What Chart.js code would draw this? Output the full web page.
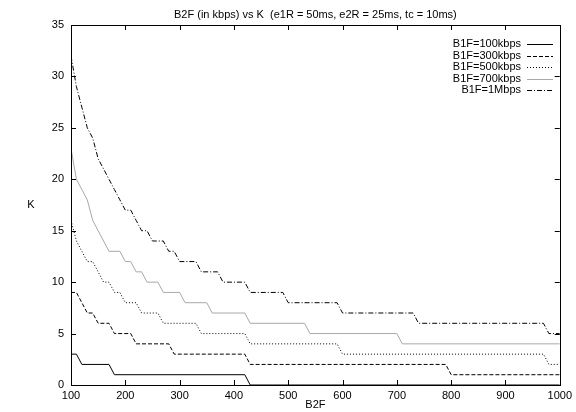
<!DOCTYPE html>
<html>
<head>
<meta charset="utf-8">
<script src="https://cdn.jsdelivr.net/npm/chart.js@4/dist/chart.umd.min.js"></script>
<style>
  body { margin: 0; background: #fff; }
  canvas { display: block; }
</style>
</head>
<body>
<canvas id="grafico" width="576" height="412"></canvas>
<script>
// dados (vertices de cada curva)
var titulo = 'B2F (in kbps) vs K  (e1R = 50ms, e2R = 25ms, tc = 10ms)';
var nomes = ['B1F=100kbps', 'B1F=300kbps', 'B1F=500kbps', 'B1F=700kbps', 'B1F=1Mbps'];

var x100 = [100, 110, 120, 170, 180, 420, 430, 1000];
var k100 = [3, 3, 2, 2, 1, 1, 0, 0];

var x300 = [100, 110, 120, 130, 140, 150, 170, 180, 210, 220, 280, 290, 420, 430, 790, 800, 1000];
var k300 = [9, 9, 8, 7, 7, 6, 6, 5, 5, 4, 4, 3, 3, 2, 2, 1, 1];

var x500 = [100, 110, 120, 130, 140, 150, 160, 170, 180, 190, 200, 220, 230, 260, 270, 330, 340, 420, 430, 590, 600, 970, 980, 1000];
var k500 = [16, 14, 13, 12, 12, 11, 10, 10, 9, 9, 8, 8, 7, 7, 6, 6, 5, 5, 4, 4, 3, 3, 2, 2];

var x700 = [100, 110, 120, 130, 140, 150, 160, 170, 190, 200, 210, 220, 230, 240, 260, 270, 300, 310, 350, 360, 420, 430, 530, 540, 700, 710, 1000];
var k700 = [23, 20, 19, 18, 16, 15, 14, 13, 13, 12, 12, 11, 11, 10, 10, 9, 9, 8, 8, 7, 7, 6, 6, 5, 5, 4, 4];

var x1M = [100, 110, 120, 130, 140, 150, 160, 170, 180, 190, 200, 210, 220, 230, 240, 250, 270, 280, 290, 300, 330, 340, 370, 380, 420, 430, 490, 500, 590, 600, 730, 740, 970, 980, 1000];
var k1M = [32, 29, 27, 25, 24, 22, 21, 20, 19, 18, 17, 17, 16, 15, 15, 14, 14, 13, 13, 12, 12, 11, 11, 10, 10, 9, 9, 8, 8, 7, 7, 6, 6, 5, 5];

var ticksX = [100, 200, 300, 400, 500, 600, 700, 800, 900, 1000];
var ticksY = [0, 5, 10, 15, 20, 25, 30, 35];

var fonte = '"Liberation Sans", Arial, Helvetica, sans-serif';

function pontos(xs, ks) {
  return xs.map(function (x, i) { return { x: x, y: ks[i] }; });
}

function serie(nome, xs, ks, cor, tracos) {
  return {
    label: nome,
    data: pontos(xs, ks),
    borderColor: cor,
    borderWidth: 1,
    borderDash: tracos,
    pointRadius: 0,
    tension: 0,
    fill: false
  };
}

// moldura, ticks para dentro, titulo, rotulo K e legenda ao estilo gnuplot
var estiloGnuplot = {
  id: 'estiloGnuplot',
  afterDatasetsDraw: function (chart) {
    var ctx = chart.ctx;
    var a = chart.chartArea;
    var sx = chart.scales.x;
    var sy = chart.scales.y;
    ctx.save();
    ctx.strokeStyle = '#000';
    ctx.lineWidth = 1;
    ctx.setLineDash([]);
    ctx.strokeRect(Math.round(a.left) + 0.5, Math.round(a.top) + 0.5,
      Math.round(a.right - a.left), Math.round(a.bottom - a.top));

    ctx.beginPath();
    ticksX.forEach(function (v) {
      var px = Math.round(sx.getPixelForValue(v)) + 0.5;
      ctx.moveTo(px, a.bottom); ctx.lineTo(px, a.bottom - 5);
      ctx.moveTo(px, a.top); ctx.lineTo(px, a.top + 5);
    });
    ticksY.forEach(function (v) {
      var py = Math.round(sy.getPixelForValue(v)) + 0.5;
      ctx.moveTo(a.left, py); ctx.lineTo(a.left + 5, py);
      ctx.moveTo(a.right, py); ctx.lineTo(a.right - 5, py);
    });
    ctx.stroke();

    ctx.fillStyle = '#000';
    ctx.font = '11px ' + fonte;
    ctx.textAlign = 'center';
    ctx.textBaseline = 'middle';
    ctx.fillText(titulo, (a.left + a.right) / 2, 15);
    ctx.fillText('K', 31, (a.top + a.bottom) / 2);

    // legenda
    ctx.textAlign = 'right';
    chart.data.datasets.forEach(function (ds, i) {
      var y = 44 + i * 11.5;
      ctx.fillStyle = '#000';
      ctx.fillText(ds.label, 521, y);
      ctx.strokeStyle = ds.borderColor;
      ctx.setLineDash(ds.borderDash || []);
      ctx.beginPath();
      ctx.moveTo(527, Math.round(y) + 0.5);
      ctx.lineTo(553, Math.round(y) + 0.5);
      ctx.stroke();
    });
    ctx.restore();
  }
};

var ctx = document.getElementById('grafico').getContext('2d');
var chart = new Chart(ctx, {
  type: 'line',
  data: {
    datasets: [
      serie(nomes[0], x100, k100, '#000000', []),
      serie(nomes[1], x300, k300, '#000000', [4, 2]),
      serie(nomes[2], x500, k500, '#000000', [1, 2]),
      serie(nomes[3], x700, k700, '#a8a8a8', []),
      serie(nomes[4], x1M, k1M, '#000000', [5, 2, 1, 2])
    ]
  },
  options: {
    responsive: false,
    animation: false,
    devicePixelRatio: 1,
    layout: { padding: { left: 0, right: 15, top: 25, bottom: 0 } },
    plugins: {
      legend: { display: false },
      title: { display: false },
      tooltip: { enabled: false }
    },
    scales: {
      x: {
        type: 'linear',
        min: 100,
        max: 1000,
        grid: { display: false, drawTicks: false },
        border: { display: false },
        afterFit: function (s) { s.height = 27; },
        ticks: {
          stepSize: 100,
          padding: 4,
          color: '#000',
          font: { family: fonte, size: 11 },
          callback: function (v) { return String(v); }
        },
        title: {
          display: true,
          text: 'B2F',
          color: '#000',
          font: { family: fonte, size: 11 },
          padding: { top: 0, bottom: 0 }
        }
      },
      y: {
        min: 0,
        max: 35,
        grid: { display: false, drawTicks: false },
        border: { display: false },
        afterFit: function (s) { s.width = 71; },
        ticks: {
          stepSize: 5,
          padding: 7,
          color: '#000',
          font: { family: fonte, size: 11 },
          callback: function (v) { return String(v); }
        }
      }
    }
  },
  plugins: [estiloGnuplot]
});
</script>
</body>
</html>
